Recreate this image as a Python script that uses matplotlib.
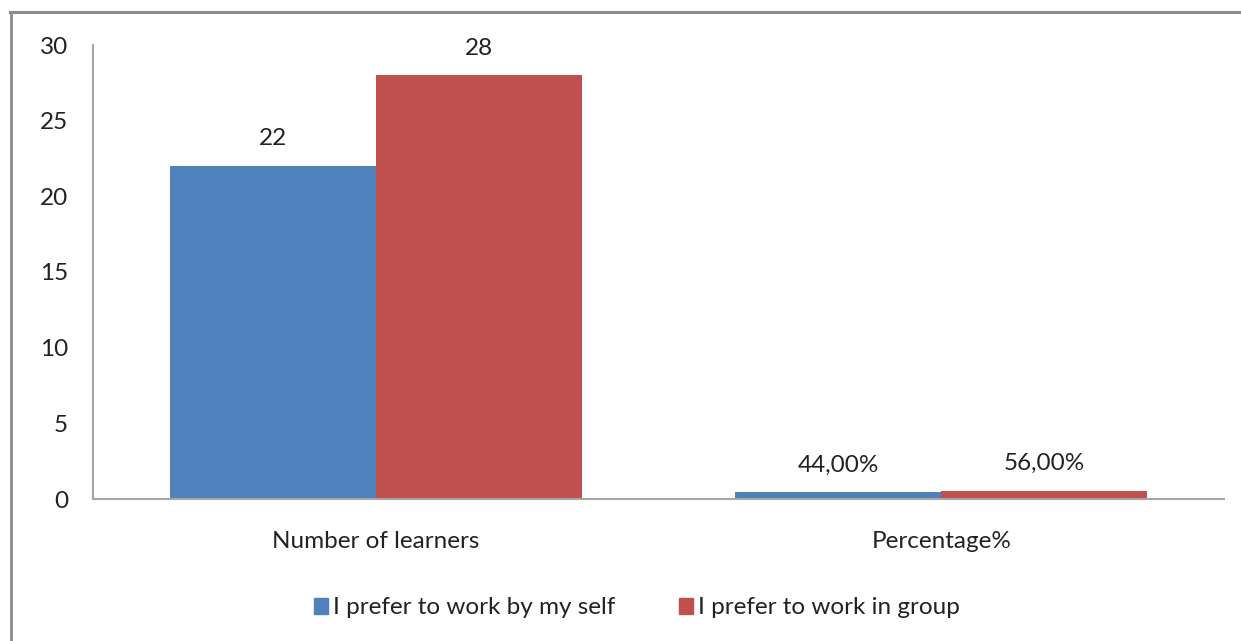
import matplotlib
matplotlib.use("Agg")
import matplotlib.pyplot as plt
from matplotlib.lines import Line2D
import numpy as np

plt.rcParams['font.family'] = ['Lato', 'DejaVu Sans']

categories = ["Number of learners", "Percentage%"]
series_names = ["I prefer to work by my self", "I prefer to work in group"]
self_values = [22, 0.44]
group_values = [28, 0.56]
self_labels = ["22", "44,00%"]
group_labels = ["28", "56,00%"]
y_ticks = [0, 5, 10, 15, 20, 25, 30]

colors = ["#4F81BD", "#C0504D"]
W, H = 1241, 641
fs = 17.5
fig = plt.figure(figsize=(W / 100, H / 100), dpi=100)
ax = fig.add_axes([93 / W, 1 - 499 / H, (1224 - 93) / W, (499 - 45) / H])

x = np.arange(len(categories))
bw = 0.364
for i, (vals, labs) in enumerate([(self_values, self_labels), (group_values, group_labels)]):
    offs = (i - 0.5) * bw
    ax.bar(x + offs, vals, bw, color=colors[i], label=series_names[i], zorder=2)
    for xi, v, lab in zip(x, vals, labs):
        ax.annotate(lab, (xi + offs, v), xytext=(0, 12), textcoords="offset points",
                    ha="center", va="bottom", fontsize=fs, color="#222222")

ax.set_xlim(-0.5, 1.5)
ax.set_ylim(0, 30)
ax.set_yticks(y_ticks)
ax.set_xticks(x)
ax.set_xticklabels(categories)
ax.tick_params(axis="both", length=0, labelsize=fs, colors="#222222")
ax.tick_params(axis="y", pad=18)
ax.tick_params(axis="x", pad=23)
for s in ["top", "right"]:
    ax.spines[s].set_visible(False)
for s in ["left", "bottom"]:
    ax.spines[s].set_color("#A6A6A6")
    ax.spines[s].set_linewidth(1.5)

handles = [plt.Rectangle((0, 0), 1, 1, color=c) for c in colors]
fig.legend(handles, series_names, loc="center", bbox_to_anchor=(637 / W, 1 - 608 / H),
           ncol=2, frameon=False, fontsize=fs, handlelength=0.6, handleheight=0.6,
           handletextpad=0.2, columnspacing=2.6, labelcolor="#222222")

# outer frame (top and left edges)
fig.add_artist(Line2D([11 / W, 11 / W], [0, 1 - 12 / H], transform=fig.transFigure,
                      color="#8C8C8C", lw=2))
fig.add_artist(Line2D([10 / W, 1], [1 - 12 / H, 1 - 12 / H], transform=fig.transFigure,
                      color="#8C8C8C", lw=2.2))

fig.savefig("out.png", dpi=100)
